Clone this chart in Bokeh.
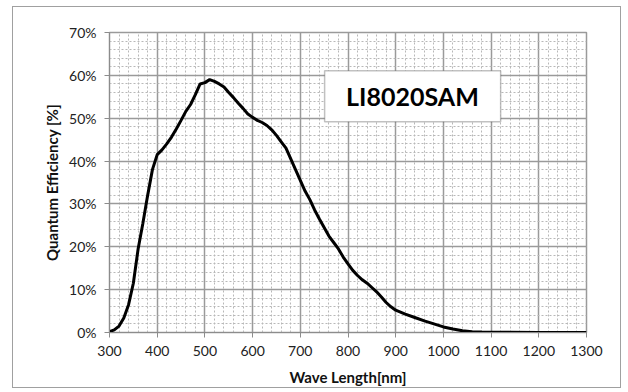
from bokeh.plotting import figure
from bokeh.models import Label, BoxAnnotation, PrintfTickFormatter, FixedTicker, Range1d
from bokeh.embed import file_html
from bokeh.resources import INLINE

# Wavelength [nm]
wavelength = [300, 310, 320, 330, 340, 350, 360, 370, 380, 390,
              400, 410, 420, 430, 440, 450, 460, 470, 480, 490,
              500, 510, 520, 530, 540, 550, 560, 570, 580, 590,
              600, 610, 620, 630, 640, 650, 660, 670, 680, 690,
              700, 710, 720, 730, 740, 750, 760, 770, 780, 790,
              800, 810, 820, 830, 840, 850, 860, 870, 880, 890,
              900, 920, 940, 960, 980, 1000, 1020, 1040, 1060, 1080,
              1100, 1200, 1300]
# Quantum efficiency [%]
qe = [0.2, 0.6, 1.5, 3.4, 6.5, 11.5, 19.5, 25.5, 32.0, 38.0,
      41.5, 42.6, 44.0, 45.6, 47.5, 49.5, 51.6, 53.2, 55.5, 58.0,
      58.3, 59.0, 58.6, 58.0, 57.3, 56.0, 54.8, 53.5, 52.3, 51.0,
      50.2, 49.5, 49.0, 48.3, 47.3, 46.0, 44.5, 43.0, 40.5, 38.0,
      35.5, 33.0, 31.0, 28.6, 26.5, 24.5, 22.5, 21.0, 19.5, 17.6,
      16.0, 14.5, 13.3, 12.3, 11.5, 10.5, 9.5, 8.3, 7.0, 6.0,
      5.2, 4.3, 3.5, 2.7, 2.0, 1.3, 0.8, 0.4, 0.2, 0.1,
      0.05, 0.0, 0.0]

x_ticks = [300, 400, 500, 600, 700, 800, 900, 1000, 1100, 1200, 1300]
y_ticks = [0, 10, 20, 30, 40, 50, 60, 70]
title_text = "LI8020SAM"

p = figure(width=609, height=382, output_backend="svg", toolbar_location=None,
           x_range=Range1d(300, 1300), y_range=Range1d(0, 70),
           min_border_left=96, min_border_right=36, min_border_top=25, min_border_bottom=57)
p.styles = {"border": "1px solid #a0a0a0", "margin-left": "12px", "margin-top": "6px"}

font = "Lato"
for ax in (p.xaxis, p.yaxis):
    ax.axis_line_color = "#8c8c8c"
    ax.major_tick_line_color = "#8c8c8c"
    ax.major_tick_out = 5
    ax.major_tick_in = 0
    ax.minor_tick_line_color = None
    ax.major_label_text_font = font
    ax.major_label_text_font_size = "14px"
    ax.major_label_text_color = "#222222"
    ax.axis_label_text_font = font
    ax.axis_label_text_font_style = "bold"
    ax.axis_label_text_font_size = "15px"
    ax.axis_label_text_color = "#111111"

p.xaxis.ticker = FixedTicker(ticks=x_ticks, minor_ticks=list(range(300, 1301, 20)))
p.yaxis.ticker = FixedTicker(ticks=y_ticks, minor_ticks=list(range(0, 71, 2)))
p.yaxis.formatter = PrintfTickFormatter(format="%d%%")
p.xaxis.axis_label = "Wave Length[nm]"
p.yaxis.axis_label = "Quantum Efficiency [%]"
p.xaxis.major_label_standoff = 8
p.yaxis.major_label_standoff = 8
p.xaxis.axis_label_standoff = 9
p.yaxis.axis_label_standoff = 5

for g in (p.xgrid, p.ygrid):
    g.grid_line_color = "#9a9a9a"
    g.grid_line_width = 1.5
    g.minor_grid_line_color = "#b8b8b8"
    g.minor_grid_line_dash = "2 2"
    g.minor_grid_line_width = 1

p.outline_line_color = "#9a9a9a"
p.outline_line_width = 1.5

p.line(wavelength, qe, line_color="black", line_width=3)

p.add_layout(BoxAnnotation(left=751, right=1120, bottom=49.2, top=61.1,
                           fill_color="white", fill_alpha=1.0,
                           line_color="#333333", line_width=1.5))
p.add_layout(Label(x=935, y=55.2, text=title_text, text_align="center",
                   text_baseline="middle", text_font=font, text_font_style="bold",
                   text_font_size="25px", text_color="black"))

open("out.html", "w").write(file_html(p, INLINE))
